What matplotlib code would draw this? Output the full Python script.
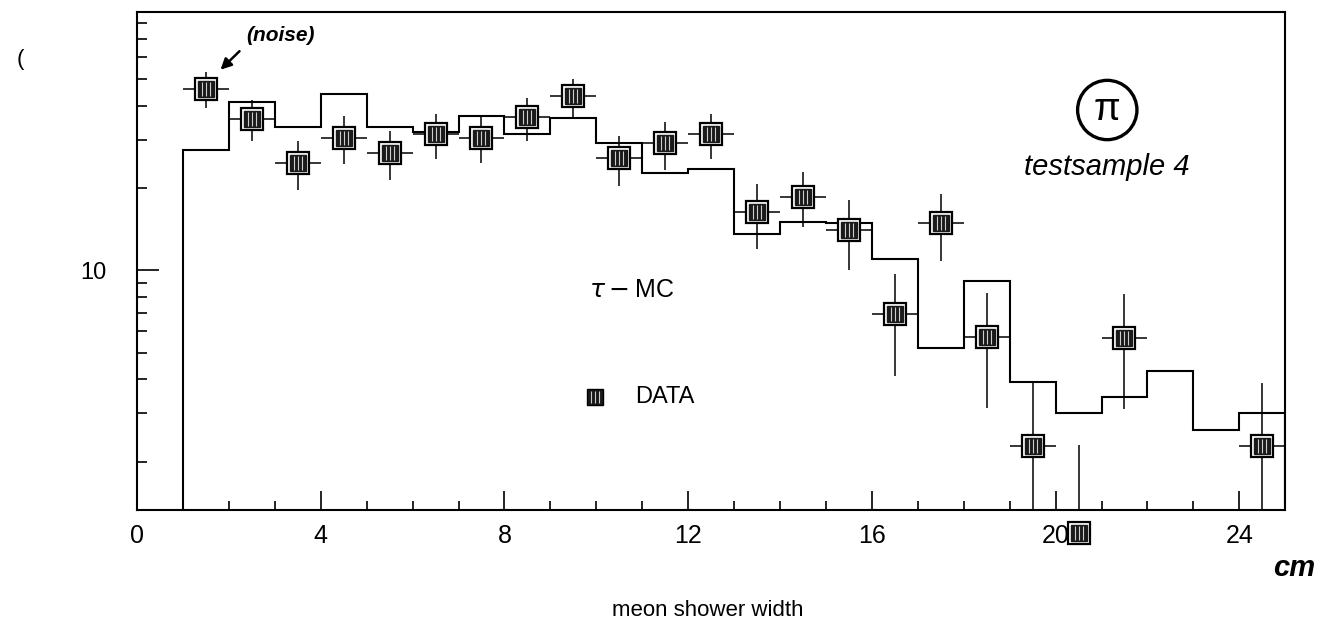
import numpy as np
import matplotlib
matplotlib.use("Agg")
from matplotlib import pyplot as plt
from matplotlib.path import Path

# MC histogram (tau-MC), bins of 1 cm from 1 to 25
mc_edges = np.arange(1, 26, 1)
mc_counts = [27.6, 41.2, 33.3, 44.2, 33.3, 32.0, 36.7, 31.4, 35.9, 29.1, 22.6, 23.4,
             13.6, 15.0, 14.9, 11.0, 5.2, 9.1, 3.9, 3.0, 3.45, 4.3, 2.6, 3.0]

# DATA points (bin centres), with errors
data_x = [1.5, 2.5, 3.5, 4.5, 5.5, 6.5, 7.5, 8.5, 9.5, 10.5, 11.5, 12.5,
          13.5, 14.5, 15.5, 16.5, 17.5, 18.5, 19.5, 20.5, 21.5, 24.5]
data_y = [46.1, 35.8, 24.7, 30.5, 26.9, 31.4, 30.5, 36.3, 43.2, 25.7, 29.1, 31.4,
          16.3, 18.6, 14.0, 6.9, 14.9, 5.7, 2.28, 1.1, 5.67, 2.28]
data_err = [6.8, 6.2, 5.0, 6.0, 5.5, 5.8, 5.9, 6.5, 7.0, 5.3, 5.8, 5.9,
            4.3, 4.2, 4.0, 2.8, 4.1, 2.55, 1.6, 1.2, 2.55, 1.6]
half_bin = 0.5

xticks = [0, 4, 8, 12, 16, 20, 24]

font = "Liberation Sans"
plt.rcParams['font.family'] = [font, 'DejaVu Sans']

fig = plt.figure(figsize=(13.25, 6.25), dpi=100)
ax = fig.add_axes([0.1034, 0.184, 0.8666, 0.797])

# step histogram
ax.stairs(mc_counts, mc_edges, baseline=1e-3, color='black', lw=1.5)

# error bars
ax.errorbar(data_x, data_y, yerr=data_err, xerr=half_bin, fmt='none',
            ecolor='black', elinewidth=1.1, capsize=0)

# striped square markers
stripes = Path([(-0.6, -1), (-0.6, 1), (0, -1), (0, 1), (0.6, -1), (0.6, 1)],
               [Path.MOVETO, Path.LINETO] * 3)


def draw_marker(xs, ys, **kw):
    ax.plot(xs, ys, 's', ms=15.5, mfc='white', mec='black', mew=1.6, clip_on=False, **kw)
    ax.plot(xs, ys, 's', ms=11.5, mfc='#1a1a1a', mec='#1a1a1a', clip_on=False, **kw)
    ax.plot(xs, ys, ls='none', marker=stripes, ms=10, mec='#cccccc', mew=0.8,
            clip_on=False, **kw)


draw_marker(data_x, data_y)

ax.set_yscale('log')
ax.set_xlim(0, 25)
ax.set_ylim(1.33, 88)

ax.set_xticks(xticks)
ax.set_xticks(np.arange(0, 26, 1), minor=True)
ax.set_yticks([10])
ax.set_yticklabels(['10'])
ax.set_yticks([v for v in list(range(2, 10)) + list(range(20, 90, 10))], minor=True)
ax.yaxis.set_minor_formatter(matplotlib.ticker.NullFormatter())
ax.tick_params(axis='both', which='both', direction='in', top=False, right=False)
ax.tick_params(axis='x', which='major', length=14, width=1.2, labelsize=18, pad=10)
ax.tick_params(axis='x', which='minor', length=6.5, width=1.2)
ax.tick_params(axis='y', which='major', length=16, width=1.2, labelsize=17, pad=22)
ax.tick_params(axis='y', which='minor', length=7, width=1.2)
for s in ax.spines.values():
    s.set_linewidth(1.5)

# legend-like texts
ax.text(0.431, 0.442, r'$\tau-$MC', transform=ax.transAxes, fontsize=18,
        ha='center', va='center')
ax.plot([0.399], [0.227], 's', ms=12, mfc='#1a1a1a', mec='black', transform=ax.transAxes)
ax.plot([0.399], [0.227], ls='none', marker=stripes, ms=9, mec='#cccccc', mew=0.8,
        transform=ax.transAxes)
ax.text(0.434, 0.227, 'DATA', transform=ax.transAxes, fontsize=17, va='center')

# handwritten annotations
ax.text(0.1246, 0.952, '(noise)', transform=ax.transAxes, fontsize=15,
        style='italic', weight='bold', ha='center', va='center')
ax.annotate('', xy=(0.0710, 0.880), xytext=(0.091, 0.925), xycoords='axes fraction',
            arrowprops=dict(arrowstyle='-|>', color='black', lw=1.8, mutation_scale=16))
ax.text(0.845, 0.803, 'π', transform=ax.transAxes, fontsize=28, ha='center',
        va='center', bbox=dict(boxstyle='circle,pad=0.3', fc='none', ec='black', lw=2.4))
ax.text(0.845, 0.689, 'testsample 4', transform=ax.transAxes, fontsize=21,
        style='italic', ha='center', va='center')

fig.text(0.977, 0.0912, 'cm', fontsize=21, style='italic', weight='bold',
         ha='center', va='center')
fig.text(0.534, 0.024, 'meon shower width', fontsize=16, ha='center', va='center')
fig.text(0.015, 0.904, '(', fontsize=16, ha='center', va='center')

fig.savefig('out.png', dpi=100)
